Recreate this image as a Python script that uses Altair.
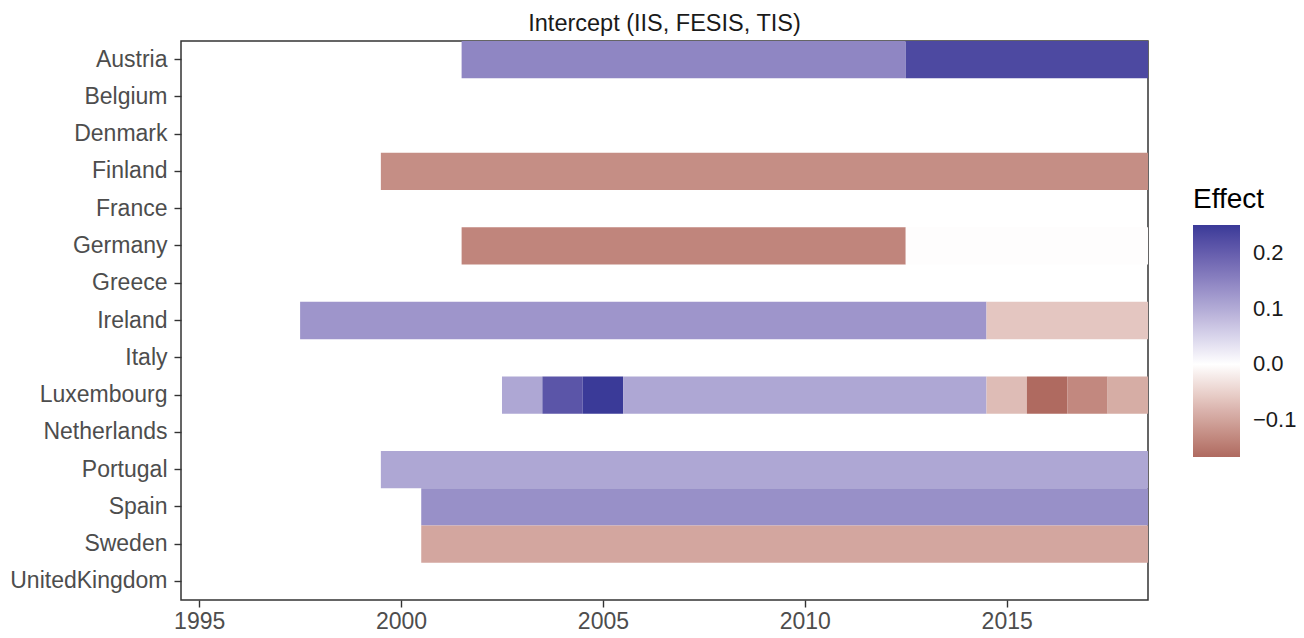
import altair as alt
import pandas as pd

countries = ["Austria", "Belgium", "Denmark", "Finland", "France", "Germany", "Greece",
             "Ireland", "Italy", "Luxembourg", "Netherlands", "Portugal", "Spain",
             "Sweden", "UnitedKingdom"]

seg_country = ["Austria", "Austria",
               "Finland",
               "Germany", "Germany",
               "Ireland", "Ireland",
               "Luxembourg", "Luxembourg", "Luxembourg", "Luxembourg", "Luxembourg",
               "Luxembourg", "Luxembourg", "Luxembourg",
               "Portugal", "Spain", "Sweden"]
seg_start = [2002, 2013,
             2000,
             2002, 2013,
             1998, 2015,
             2003, 2004, 2005, 2006, 2015, 2016, 2017, 2018,
             2000, 2001, 2001]
seg_end = [2012, 2018,
           2018,
           2012, 2018,
           2014, 2018,
           2003, 2004, 2005, 2014, 2015, 2016, 2017, 2018,
           2018, 2018, 2018]
seg_effect = [0.146, 0.229,
              -0.125,
              -0.135, -0.002,
              0.127, -0.062,
              0.105, 0.212, 0.25, 0.105, -0.073, -0.166, -0.131, -0.09,
              0.105, 0.134, -0.097]

x_ticks = [1995, 2000, 2005, 2010, 2015]
legend_ticks = [-0.1, 0.0, 0.1, 0.2]

df = pd.DataFrame({"country": seg_country, "start": seg_start,
                   "end": seg_end, "Effect": seg_effect})

lo, hi = min(seg_effect), max(seg_effect)

FONT = "Liberation Sans"

chart = alt.Chart(df).transform_calculate(
    x0="datum.start - 0.5", x1="datum.end + 0.5"
).mark_rect().encode(
    x=alt.X("x0:Q",
            scale=alt.Scale(domain=[1994.55, 2018.5], nice=False, zero=False),
            axis=alt.Axis(values=x_ticks, format="d", title=None, grid=False,
                          labelFontSize=23, labelColor="#4D4D4D", labelFont=FONT,
                          tickColor="#333333", tickSize=7, tickWidth=1.4,
                          labelPadding=3, domain=False)),
    x2="x1:Q",
    y=alt.Y("country:N",
            scale=alt.Scale(domain=countries, paddingInner=0, paddingOuter=0),
            axis=alt.Axis(title=None, grid=False, labelFontSize=23,
                          labelColor="#4D4D4D", labelFont=FONT,
                          tickColor="#333333", tickSize=7, tickWidth=1.4,
                          labelPadding=7, domain=False)),
    color=alt.Color("Effect:Q",
                    scale=alt.Scale(domain=[lo, 0, hi],
                                    range=["#AF6A60", "#FFFFFF", "#3A3A98"],
                                    interpolate="lab"),
                    legend=alt.Legend(title="Effect", orient="none",
                                      legendX=1012, legendY=145,
                                      values=legend_ticks, format=".1f",
                                      gradientLength=232, gradientThickness=47,
                                      gradientStrokeWidth=0,
                                      titleFontSize=28, titleFont=FONT,
                                      titleFontWeight="normal", titleColor="#000000",
                                      titlePadding=11,
                                      labelFontSize=22, labelFont=FONT,
                                      labelColor="#1A1A1A", labelOffset=13)),
).properties(
    width=967, height=559,
    title=alt.Title("Intercept (IIS, FESIS, TIS)", fontSize=23.5, font=FONT,
                    fontWeight="normal", color="#1A1A1A", anchor="middle",
                    offset=6),
    autosize=alt.AutoSizeParams(type="none"),
    padding={"left": 173, "top": 33, "right": 148, "bottom": 37},
).configure_view(
    stroke="#333333", strokeWidth=1.5
)

chart.save("out.html", embed_options={"renderer": "svg", "actions": False})
